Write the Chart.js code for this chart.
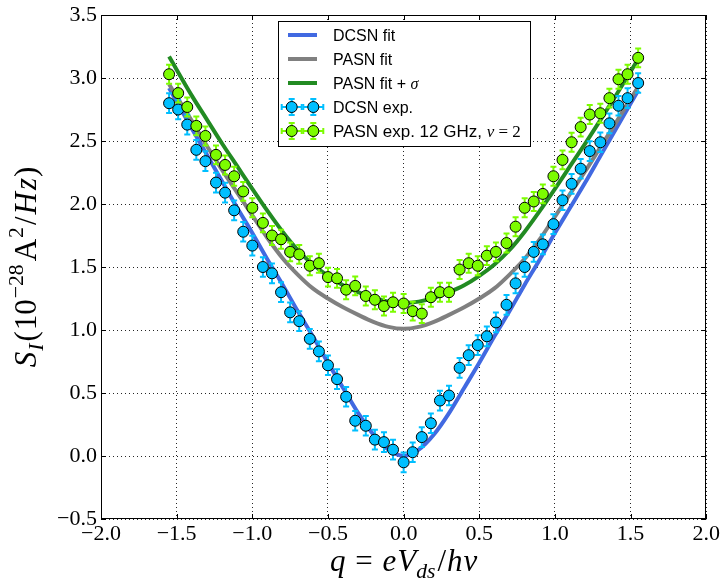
<!DOCTYPE html>
<html><head><meta charset="utf-8">
<script src="https://cdn.jsdelivr.net/npm/chart.js@4.4.0/dist/chart.umd.min.js"></script>
<style>html,body{margin:0;padding:0;background:#fff}canvas{display:block}</style>
</head><body>
<canvas id="c" width="724" height="583"></canvas>
<script>
// ---------- data ----------
const qExp = [-1.55,-1.49,-1.43,-1.37,-1.31,-1.24,-1.18,-1.12,-1.06,-1.00,-0.93,-0.87,-0.81,-0.75,-0.69,-0.62,-0.56,-0.50,-0.44,-0.38,-0.32,-0.25,-0.19,-0.13,-0.07,0.00,
  0.06,0.12,0.18,0.24,0.30,0.37,0.43,0.49,0.55,0.61,0.68,0.74,0.80,0.86,0.92,0.99,1.05,1.11,1.17,1.23,1.30,1.36,1.42,1.48,1.55];
const dcsnExp = [2.80,2.75,2.63,2.43,2.34,2.17,2.09,1.95,1.78,1.67,1.50,1.45,1.30,1.14,1.07,0.93,0.83,0.72,0.61,0.47,0.28,0.24,0.13,0.11,0.05,-0.05,
  0.03,0.15,0.26,0.44,0.48,0.70,0.80,0.88,0.95,1.06,1.20,1.37,1.50,1.62,1.68,1.84,2.03,2.16,2.28,2.42,2.49,2.64,2.78,2.84,2.96];
const pasnExp = [3.03,2.88,2.77,2.62,2.54,2.39,2.31,2.22,2.10,1.97,1.85,1.75,1.72,1.62,1.60,1.51,1.53,1.42,1.41,1.32,1.35,1.27,1.24,1.19,1.22,1.21,
  1.15,1.13,1.26,1.30,1.30,1.48,1.53,1.51,1.59,1.62,1.69,1.82,1.97,2.02,2.08,2.22,2.35,2.49,2.61,2.71,2.72,2.84,2.99,3.03,3.16];
const dcsnErr = 0.078;
const pasnErr = 0.075;

const qFit = [-1.55,-1.4,-1.3,-1.2,-1.1,-1.0,-0.9,-0.8,-0.7,-0.6,-0.5,-0.4,-0.3,-0.2,-0.1,0,0.1,0.2,0.3,0.4,0.5,0.6,0.7,0.8,0.9,1.0,1.1,1.2,1.3,1.4,1.55];
const dcsnFit = [2.92,2.60,2.39,2.18,1.97,1.77,1.56,1.36,1.15,0.95,0.74,0.54,0.34,0.17,0.05,0.00,0.05,0.17,0.34,0.54,0.74,0.95,1.15,1.36,1.56,1.77,1.97,2.17,2.38,2.59,2.90];
const pasnFit = [2.95,2.66,2.46,2.27,2.09,1.91,1.73,1.57,1.44,1.33,1.25,1.18,1.12,1.065,1.025,1.01,1.025,1.065,1.12,1.18,1.25,1.33,1.44,1.565,1.72,1.90,2.08,2.26,2.45,2.64,2.93];
const pasnFitSigma = [3.17,2.86,2.67,2.48,2.30,2.12,1.945,1.78,1.635,1.52,1.43,1.355,1.30,1.255,1.225,1.215,1.225,1.255,1.30,1.355,1.43,1.52,1.635,1.78,1.945,2.12,2.30,2.48,2.665,2.855,3.15];

const xTickValues = [-2.0,-1.5,-1.0,-0.5,0.0,0.5,1.0,1.5,2.0];
const xTickLabels = ['\u22122.0','\u22121.5','\u22121.0','\u22120.5','0.0','0.5','1.0','1.5','2.0'];
const yTickValues = [-0.5,0.0,0.5,1.0,1.5,2.0,2.5,3.0,3.5];
const yTickLabels = ['\u22120.5','0.0','0.5','1.0','1.5','2.0','2.5','3.0','3.5'];

const legendLabels = ['DCSN fit','PASN fit','PASN fit + ','DCSN exp.','PASN exp. 12 GHz, '];

// ---------- helpers ----------
const SERIF = '"Liberation Serif", "DejaVu Serif", serif';
const SANS = '"Liberation Sans", Arial, sans-serif';
function drawRich(ctx, segs, x, y, size, align) {
  let total = 0;
  const parts = segs.map(s => {
    const sz = (s.sub || s.sup) ? size * 0.7 : size;
    const font = (s.it ? 'italic ' : '') + sz + 'px ' + (s.sans ? SANS : SERIF);
    ctx.font = font;
    const w = ctx.measureText(s.t).width + (s.gap || 0);
    total += w;
    return {t: s.t, font, w, dy: s.sub ? size * 0.22 : (s.sup ? -size * 0.42 : 0)};
  });
  let cx = align === 'center' ? x - total / 2 : x;
  ctx.textAlign = 'left';
  ctx.textBaseline = 'alphabetic';
  parts.forEach(p => { ctx.font = p.font; ctx.fillText(p.t, cx, y + p.dy); cx += p.w; });
}

const pts = (xs, ys) => xs.map((x, i) => ({x, y: ys[i]}));

const errPlugin = {
  id: 'errbars',
  beforeDatasetDraw(chart, args) {
    const ds = chart.data.datasets[args.index];
    if (!ds.errY) return;
    const ctx = chart.ctx, xs = chart.scales.x, ys = chart.scales.y;
    ctx.save();
    ctx.strokeStyle = ds.errColor; ctx.lineWidth = 2;
    ds.data.forEach(p => {
      const px = xs.getPixelForValue(p.x);
      const y1 = ys.getPixelForValue(p.y - ds.errY), y2 = ys.getPixelForValue(p.y + ds.errY);
      ctx.beginPath();
      ctx.moveTo(px, y1); ctx.lineTo(px, y2);
      ctx.moveTo(px - 3, y1); ctx.lineTo(px + 3, y1);
      ctx.moveTo(px - 3, y2); ctx.lineTo(px + 3, y2);
      ctx.stroke();
    });
    ctx.restore();
  }
};

const framePlugin = {
  id: 'frame',
  afterDraw(chart) {
    const ctx = chart.ctx, a = chart.chartArea, xs = chart.scales.x, ys = chart.scales.y;
    ctx.save();
    ctx.strokeStyle = '#000'; ctx.lineWidth = 1;
    ctx.strokeRect(Math.round(a.left) + 0.5, Math.round(a.top) + 0.5, Math.round(a.right - a.left) - 1, Math.round(a.bottom - a.top) - 1);
    ctx.beginPath();
    xTickValues.forEach(v => {
      const px = Math.round(xs.getPixelForValue(v)) + 0.5;
      ctx.moveTo(px, a.bottom); ctx.lineTo(px, a.bottom - 5);
      ctx.moveTo(px, a.top); ctx.lineTo(px, a.top + 5);
    });
    yTickValues.forEach(v => {
      const py = Math.round(ys.getPixelForValue(v)) + 0.5;
      ctx.moveTo(a.left, py); ctx.lineTo(a.left + 5, py);
      ctx.moveTo(a.right, py); ctx.lineTo(a.right - 5, py);
    });
    ctx.stroke();

    // axis titles
    ctx.fillStyle = '#000';
    drawRich(ctx, [
      {t: 'q', it: true, gap: 2}, {t: ' = ', gap: 2}, {t: 'e', it: true, gap: 1}, {t: 'V', it: true}, {t: 'ds', it: true, sub: true, gap: 2},
      {t: '/', gap: 1}, {t: 'h', it: true, gap: 1}, {t: '\u03BD', it: true}
    ], (a.left + a.right) / 2, 571, 31, 'center');
    ctx.save();
    ctx.translate(36, (a.top + a.bottom) / 2);
    ctx.rotate(-Math.PI / 2);
    drawRich(ctx, [
      {t: 'S', it: true, gap: 1}, {t: 'I', it: true, sub: true, gap: 2}, {t: '(', gap: 1}, {t: '10', gap: 1}, {t: '\u221228', sup: true, gap: 3},
      {t: 'A', gap: 1}, {t: '2', sup: true, gap: 2}, {t: '/', gap: 2}, {t: 'H', it: true, gap: 2}, {t: 'z', it: true, gap: 1}, {t: ')'}
    ], 0, 0, 31, 'center');
    ctx.restore();

    // legend
    const L = 278.5, T = 21.5, W = 252, H = 125;
    ctx.fillStyle = '#fff'; ctx.fillRect(L, T, W, H);
    ctx.strokeStyle = '#000'; ctx.lineWidth = 1; ctx.strokeRect(L, T, W, H);
    const rows = [35, 59, 83, 107, 131];
    const lineCols = ['#4169E1', '#808080', '#228B22'];
    for (let i = 0; i < 3; i++) {
      ctx.strokeStyle = lineCols[i]; ctx.lineWidth = 4;
      ctx.beginPath(); ctx.moveTo(288, rows[i]); ctx.lineTo(317, rows[i]); ctx.stroke();
    }
    const mk = ['#00BFFF', '#7CFC00'];
    for (let j = 0; j < 2; j++) {
      const y = rows[3 + j];
      [291.7, 313.3].forEach(cx => {
        ctx.strokeStyle = mk[j]; ctx.lineWidth = 2;
        ctx.beginPath();
        ctx.moveTo(cx - 10, y); ctx.lineTo(cx + 10, y);
        ctx.moveTo(cx - 10, y - 3); ctx.lineTo(cx - 10, y + 3);
        ctx.moveTo(cx + 10, y - 3); ctx.lineTo(cx + 10, y + 3);
        ctx.moveTo(cx, y - 8); ctx.lineTo(cx, y + 8);
        ctx.moveTo(cx - 3, y - 8); ctx.lineTo(cx + 3, y - 8);
        ctx.moveTo(cx - 3, y + 8); ctx.lineTo(cx + 3, y + 8);
        ctx.stroke();
        ctx.beginPath(); ctx.arc(cx, y, 5.5, 0, Math.PI * 2);
        ctx.fillStyle = mk[j]; ctx.fill();
        ctx.strokeStyle = '#000'; ctx.lineWidth = 1; ctx.stroke();
      });
    }
    ctx.fillStyle = '#000';
    drawRich(ctx, [{t: legendLabels[0], sans: true}], 333, rows[0] + 6, 16, 'left');
    drawRich(ctx, [{t: legendLabels[1], sans: true}], 333, rows[1] + 6, 16, 'left');
    drawRich(ctx, [{t: legendLabels[2], sans: true}, {t: '\u03C3', it: true}], 333, rows[2] + 6, 16, 'left');
    drawRich(ctx, [{t: legendLabels[3], sans: true}], 333, rows[3] + 6, 16, 'left');
    drawRich(ctx, [{t: legendLabels[4], sans: true}, {t: '\u03BD', it: true}, {t: ' = 2'}], 333, rows[4] + 6, 17, 'left');
    ctx.restore();
  }
};

const gridCommon = {color: 'rgba(0,0,0,0.85)', lineWidth: 1, drawTicks: false};

new Chart(document.getElementById('c'), {
  type: 'scatter',
  data: {
    datasets: [
      {label: 'PASN exp. 12 GHz', data: pts(qExp, pasnExp), order: 1, pointRadius: 5.5, pointHoverRadius: 5.5,
       backgroundColor: '#7CFC00', borderColor: '#000', borderWidth: 1, errY: pasnErr, errColor: '#7CFC00'},
      {label: 'DCSN exp.', data: pts(qExp, dcsnExp), order: 2, pointRadius: 5.5, pointHoverRadius: 5.5,
       backgroundColor: '#00BFFF', borderColor: '#000', borderWidth: 1, errY: dcsnErr, errColor: '#00BFFF'},
      {label: 'PASN fit + sigma', data: pts(qFit, pasnFitSigma), order: 3, showLine: true, pointRadius: 0,
       borderColor: '#228B22', borderWidth: 4, cubicInterpolationMode: 'monotone'},
      {label: 'PASN fit', data: pts(qFit, pasnFit), order: 4, showLine: true, pointRadius: 0,
       borderColor: '#808080', borderWidth: 4, cubicInterpolationMode: 'monotone'},
      {label: 'DCSN fit', data: pts(qFit, dcsnFit), order: 5, showLine: true, pointRadius: 0,
       borderColor: '#4169E1', borderWidth: 4, cubicInterpolationMode: 'monotone'}
    ]
  },
  options: {
    responsive: false, animation: false, devicePixelRatio: 1, events: [],
    layout: {padding: {left: 0, right: 15, top: 13, bottom: 0}},
    plugins: {legend: {display: false}, tooltip: {enabled: false}},
    scales: {
      x: {
        type: 'linear', min: -2, max: 2,
        afterBuildTicks: s => { s.ticks = xTickValues.map(v => ({value: v})); },
        afterFit: s => { s.height = 64; },
        ticks: {callback: (v, i) => xTickLabels[i], color: '#000', padding: 4, maxRotation: 0,
                font: {family: SERIF, size: 22, lineHeight: 1}},
        grid: gridCommon,
        border: {display: false, dash: [1, 3]}
      },
      y: {
        type: 'linear', min: -0.5, max: 3.5,
        afterBuildTicks: s => { s.ticks = yTickValues.map(v => ({value: v})); },
        afterFit: s => { s.width = 101; },
        ticks: {callback: (v, i) => yTickLabels[i], color: '#000', padding: 4,
                font: {family: SERIF, size: 22, lineHeight: 1}},
        grid: gridCommon,
        border: {display: false, dash: [1, 3]}
      }
    }
  },
  plugins: [errPlugin, framePlugin]
});
</script>
</body></html>
